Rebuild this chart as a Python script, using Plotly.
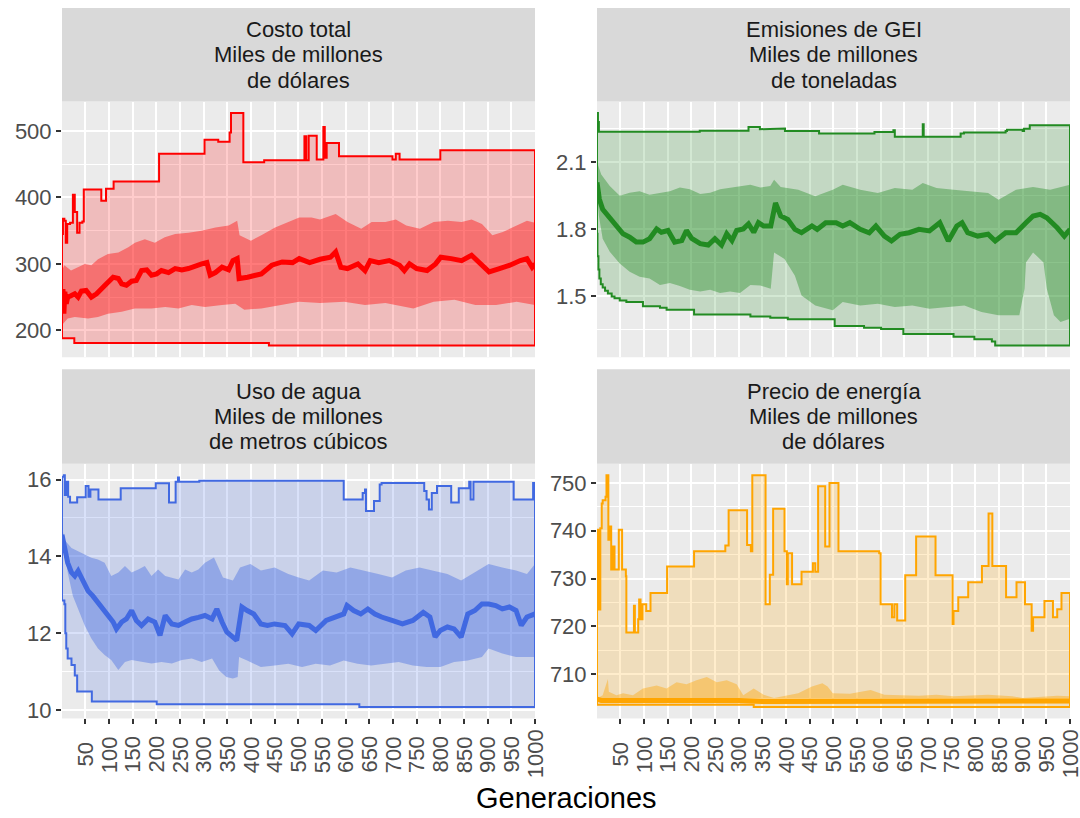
import plotly.graph_objects as go

# ---------------------------------------------------------------------------
# Data: generation -> value pairs for each objective
# max / min series are step breakpoints (value holds until the next gen)
# ---------------------------------------------------------------------------

# Costo total (miles de millones de dólares)
costo_max_gen = [1, 3, 6, 9, 12, 18, 24, 28, 33, 38, 44, 47, 84, 94, 110, 206, 302, 331, 355, 358,
                 384, 428, 488, 493, 513, 517, 522, 539, 553, 556, 560, 586, 699, 706, 714, 800, 1000]
costo_max_val = [345, 368, 365, 332, 360, 362, 404, 378, 347, 362, 364, 412, 395, 413, 424, 466, 487, 484, 498, 527,
                 453, 456, 457, 456, 492, 456, 493, 457, 506, 460, 482, 462, 457, 466, 457, 471, 471]
costo_min_gen = [1, 27, 438, 1000]
costo_min_val = [188, 181, 177, 177]
costo_med_gen = [1, 3, 5, 7, 10, 13, 20, 28, 35, 42, 52, 58, 63, 74, 84, 95, 109, 120, 127, 137, 148, 158,
                 169, 180, 190, 201, 211, 226, 240, 254, 268, 282, 296, 307, 314, 325, 339, 353, 362, 371,
                 375, 393, 408, 422, 444, 466, 488, 502, 524, 546, 568, 579, 590, 604, 626, 641, 652, 670,
                 692, 714, 724, 735, 750, 772, 790, 801, 823, 845, 866, 885, 903, 925, 947, 969, 983, 994, 1000]
costo_med_val = [230, 262, 225, 258, 240, 250, 252, 255, 250, 259, 260, 254, 250, 255, 263, 270, 280, 278, 270,
                 268, 274, 275, 290, 291, 283, 285, 290, 287, 293, 291, 293, 297, 300, 302, 283, 287, 295, 291,
                 305, 308, 278, 280, 283, 285, 298, 303, 302, 308, 302, 307, 310, 318, 295, 293, 300, 290, 305,
                 302, 305, 298, 290, 300, 293, 290, 300, 310, 308, 305, 313, 300, 288, 293, 298, 305, 308, 295, 300]
costo_hi_gen = [1, 6, 20, 28, 49, 63, 77, 98, 120, 141, 155, 176, 197, 218, 240, 268, 296, 325, 353, 371,
                376, 400, 422, 451, 480, 502, 528, 546, 579, 604, 633, 655, 684, 706, 728, 757, 786, 816,
                845, 866, 888, 910, 932, 961, 983, 1000]
costo_hi_val = [290, 298, 290, 293, 300, 298, 307, 315, 317, 325, 332, 337, 332, 340, 345, 347, 350, 355, 358,
                365, 343, 335, 343, 355, 363, 370, 370, 367, 375, 363, 353, 363, 363, 367, 358, 353, 363, 365,
                363, 367, 360, 343, 348, 358, 365, 362]
costo_lo_gen = [1, 13, 28, 56, 77, 98, 127, 155, 190, 219, 247, 275, 303, 339, 367, 386, 422, 466, 502, 546,
                597, 641, 684, 743, 786, 830, 874, 918, 961, 1000]
costo_lo_val = [208, 218, 220, 218, 220, 225, 228, 233, 233, 235, 233, 238, 235, 238, 240, 231, 233, 238, 243,
                241, 243, 238, 241, 233, 243, 246, 238, 238, 243, 238]

# Emisiones de GEI (miles de millones de toneladas)
gei_max_gen = [1, 3, 5, 218, 321, 345, 353, 398, 470, 587, 627, 630, 689, 691, 769, 776, 864, 867, 900, 903,
               915, 1000]
gei_max_val = [2.32, 2.28, 2.237, 2.241, 2.258, 2.248, 2.251, 2.24, 2.229, 2.236, 2.243, 2.214, 2.27, 2.214,
               2.229, 2.233, 2.24, 2.246, 2.24, 2.25, 2.266, 2.266]
gei_min_gen = [1, 2, 4, 6, 9, 13, 18, 24, 32, 38, 49, 63, 98, 134, 148, 206, 325, 367, 404, 503, 565, 601,
               648, 754, 798, 835, 842, 1000]
gei_min_val = [1.78, 1.68, 1.62, 1.58, 1.555, 1.54, 1.525, 1.513, 1.50, 1.492, 1.482, 1.475, 1.456, 1.449,
               1.44, 1.419, 1.41, 1.405, 1.398, 1.368, 1.36, 1.354, 1.332, 1.32, 1.309, 1.298, 1.28, 1.28]
gei_med_gen = [1, 6, 13, 24, 35, 45, 56, 70, 84, 98, 112, 127, 137, 151, 165, 180, 190, 201, 219, 236, 250,
               264, 275, 286, 296, 310, 321, 332, 342, 353, 368, 378, 389, 404, 419, 433, 455, 466, 484, 506,
               520, 535, 557, 576, 590, 608, 623, 641, 660, 681, 703, 725, 743, 761, 772, 784, 805, 827, 842,
               864, 886, 907, 922, 937, 951, 973, 988, 1000]
gei_med_val = [2.01, 1.935, 1.89, 1.86, 1.832, 1.81, 1.78, 1.765, 1.743, 1.743, 1.758, 1.802, 1.787, 1.795,
               1.743, 1.75, 1.795, 1.76, 1.736, 1.73, 1.758, 1.73, 1.78, 1.75, 1.795, 1.802, 1.824, 1.787, 1.83,
               1.815, 1.815, 1.918, 1.86, 1.844, 1.80, 1.785, 1.815, 1.80, 1.83, 1.83, 1.815, 1.83, 1.80, 1.785,
               1.815, 1.77, 1.748, 1.778, 1.785, 1.80, 1.793, 1.83, 1.748, 1.815, 1.83, 1.785, 1.77, 1.778,
               1.748, 1.785, 1.785, 1.83, 1.86, 1.867, 1.852, 1.807, 1.77, 1.80]
gei_hi_gen = [1, 10, 28, 49, 70, 91, 112, 134, 155, 176, 197, 219, 240, 261, 282, 303, 325, 346, 367, 375,
              389, 426, 462, 499, 520, 557, 594, 630, 667, 689, 718, 754, 791, 827, 849, 886, 922, 958, 1000]
gei_hi_val = [2.10, 2.045, 1.994, 1.95, 1.964, 1.97, 1.955, 1.964, 1.97, 1.987, 1.98, 1.958, 1.964, 1.98,
              1.987, 1.994, 2.0, 1.987, 1.994, 2.022, 1.99, 1.977, 1.948, 1.977, 2.0, 1.977, 1.963, 1.985,
              1.977, 2.007, 1.985, 1.977, 1.97, 1.963, 1.933, 1.977, 1.99, 1.977, 2.0]
gei_lo_gen = [1, 5, 13, 28, 49, 70, 91, 112, 134, 155, 176, 197, 219, 240, 261, 282, 303, 325, 346, 368, 375,
              397, 419, 433, 462, 499, 520, 557, 594, 630, 667, 703, 740, 777, 813, 849, 893, 904, 907, 922,
              944, 951, 966, 980, 1000]
gei_lo_val = [1.96, 1.86, 1.758, 1.70, 1.647, 1.61, 1.588, 1.58, 1.551, 1.56, 1.547, 1.53, 1.522, 1.53, 1.515,
              1.522, 1.515, 1.551, 1.549, 1.534, 1.697, 1.667, 1.593, 1.504, 1.46, 1.438, 1.475, 1.46, 1.467,
              1.453, 1.46, 1.445, 1.453, 1.46, 1.43, 1.416, 1.416, 1.534, 1.652, 1.697, 1.652, 1.534, 1.416,
              1.386, 1.40]

# Uso de agua (miles de millones de metros cúbicos)
agua_max_gen = [1, 5, 7, 11, 14, 18, 33, 51, 57, 61, 78, 125, 199, 227, 241, 246, 248, 291, 596, 636, 641,
                643, 660, 672, 676, 766, 771, 776, 782, 793, 823, 839, 861, 864, 870, 955, 996, 1000]
agua_max_val = [16.07, 16.11, 15.6, 15.94, 15.55, 15.4, 15.54, 15.83, 15.55, 15.74, 15.48, 15.77, 15.9, 15.4,
                15.94, 16.05, 15.94, 15.97, 15.48, 15.65, 15.74, 15.18, 15.44, 15.87, 15.91, 15.7, 15.48,
                15.22, 15.65, 15.83, 15.4, 15.77, 15.94, 15.48, 15.94, 15.48, 15.91, 15.91]
agua_min_gen = [1, 6, 8, 10, 13, 21, 28, 33, 64, 201, 629, 1000]
agua_min_val = [12.85, 12.75, 12.0, 11.6, 11.34, 11.17, 10.9, 10.48, 10.22, 10.15, 10.08, 10.08]
agua_med_gen = [1, 6, 13, 21, 28, 35, 42, 49, 56, 66, 74, 84, 98, 109, 116, 127, 137, 148, 158, 169, 183,
                197, 208, 219, 233, 247, 261, 275, 289, 303, 318, 328, 339, 349, 370, 381, 392, 406, 421,
                435, 450, 472, 487, 501, 523, 537, 559, 581, 596, 603, 617, 632, 647, 662, 676, 698, 720,
                742, 764, 778, 789, 800, 815, 829, 844, 858, 873, 888, 902, 917, 931, 946, 960, 971, 983, 1000]
agua_med_val = [14.56, 14.18, 13.83, 13.58, 13.49, 13.62, 13.45, 13.27, 13.10, 12.97, 12.84, 12.72, 12.46,
                12.29, 12.11, 12.29, 12.37, 12.59, 12.33, 12.2, 12.37, 12.29, 11.94, 12.46, 12.24, 12.2,
                12.29, 12.37, 12.41, 12.46, 12.37, 12.63, 12.29, 12.03, 11.81, 12.68, 12.59, 12.5, 12.24,
                12.2, 12.24, 12.2, 11.98, 12.24, 12.2, 12.07, 12.33, 12.42, 12.5, 12.72, 12.59, 12.5, 12.63,
                12.5, 12.42, 12.33, 12.24, 12.33, 12.54, 12.42, 11.9, 12.07, 12.16, 12.11, 11.9, 12.5, 12.59,
                12.76, 12.76, 12.72, 12.63, 12.68, 12.59, 12.2, 12.42, 12.5]
agua_hi_gen = [1, 6, 21, 35, 49, 63, 77, 91, 105, 120, 134, 148, 162, 176, 190, 204, 219, 233, 247, 261, 275,
               289, 303, 322, 341, 362, 377, 399, 421, 450, 479, 501, 523, 552, 581, 610, 640, 669, 698, 727,
               756, 786, 815, 844, 873, 902, 931, 960, 983, 1000]
agua_hi_val = [14.78, 14.43, 14.22, 14.13, 14.05, 13.96, 13.92, 13.83, 13.49, 13.58, 13.75, 13.58, 13.66,
               13.75, 13.49, 13.66, 13.49, 13.45, 13.4, 13.66, 13.58, 13.66, 13.83, 13.97, 13.45, 13.37,
               13.71, 13.8, 13.63, 13.71, 13.54, 13.45, 13.37, 13.63, 13.58, 13.71, 13.63, 13.54, 13.45,
               13.63, 13.71, 13.63, 13.54, 13.37, 13.58, 13.8, 13.71, 13.63, 13.54, 13.8]
agua_lo_gen = [1, 6, 13, 24, 35, 49, 63, 77, 91, 105, 120, 134, 148, 169, 190, 211, 233, 254, 275, 296, 318,
               333, 348, 362, 372, 375, 392, 421, 450, 479, 508, 537, 567, 596, 625, 654, 683, 712, 742, 771,
               800, 829, 858, 888, 902, 931, 960, 1000]
agua_lo_val = [14.7, 14.18, 13.58, 12.97, 12.63, 12.2, 11.86, 11.6, 11.43, 11.3, 11.04, 11.25, 11.3, 11.25,
               11.21, 11.25, 11.21, 11.3, 11.34, 11.25, 11.34, 11.03, 10.86, 10.82, 10.86, 11.38, 11.29,
               11.12, 11.16, 11.2, 11.12, 11.2, 11.16, 11.29, 11.2, 11.16, 11.2, 11.25, 11.16, 11.12, 11.12,
               11.25, 11.29, 11.38, 11.6, 11.47, 11.38, 11.38]

# Precio de energía (miles de millones de dólares)
energia_max_gen = [1, 3, 5, 8, 11, 13, 19, 21, 25, 29, 31, 35, 38, 47, 54, 62, 63, 79, 81, 88, 90, 93, 97,
                   105, 114, 149, 206, 272, 279, 318, 326, 329, 357, 366, 373, 397, 402, 404, 413, 433, 457,
                   462, 468, 483, 492, 511, 597, 600, 624, 629, 635, 652, 675, 716, 752, 754, 764, 785, 814,
                   828, 836, 865, 887, 905, 919, 922, 946, 964, 973, 982, 1000]
energia_max_val = [723.6, 740.2, 723.5, 740.5, 745.7, 746.4, 747.1, 751.6, 738.1, 740.9, 731.9, 736.7, 731.9,
                   740.2, 731.9, 730.5, 718.7, 724.3, 718.7, 721.5, 725.6, 721.5, 724.6, 723.2, 727.0, 732.5,
                   735.7, 736.9, 744.3, 737.0, 735.7, 751.6, 724.6, 730.8, 744.6, 735.7, 728.8, 735.3, 728.8,
                   731.4, 733.2, 731.4, 749.3, 736.7, 750.0, 735.7, 735.3, 724.6, 721.9, 724.6, 721.2, 730.7,
                   738.8, 730.7, 720.5, 723.2, 726.1, 729.2, 732.6, 743.6, 732.6, 726.1, 729.2, 724.6, 719.1,
                   721.9, 725.3, 721.9, 723.6, 727.0, 727.0]
energia_min_gen = [1, 332, 1000]
energia_min_val = [703.6, 703.15, 703.15]
energia_med_gen = [1, 10, 100, 200, 300, 350, 600, 1000]
energia_med_val = [704.8, 704.5, 704.5, 704.6, 704.5, 704.3, 704.3, 704.4]
energia_hi_gen = [1, 13, 24, 26, 42, 56, 77, 98, 127, 148, 169, 190, 211, 233, 254, 275, 296, 310, 332, 353,
                  375, 426, 455, 477, 488, 499, 535, 579, 608, 681, 718, 754, 827, 878, 900, 973, 1000]
energia_hi_val = [704.9, 705.6, 709.0, 706.3, 705.6, 706.0, 705.6, 707.0, 707.6, 707.0, 708.3, 707.9, 708.7,
                  709.4, 708.3, 708.7, 707.9, 705.6, 707.0, 705.7, 705.0, 706.0, 707.4, 708.1, 707.4, 706.0,
                  705.9, 706.7, 705.7, 705.5, 705.7, 705.4, 705.7, 705.4, 705.0, 705.5, 705.4]
energia_lo_gen = [1, 100, 330, 1000]
energia_lo_val = [704.2, 704.0, 703.9, 703.9]

# Facet labels and axis breaks
strip_labels = [
    ["Costo total", "Miles de millones", "de dólares"],
    ["Emisiones de GEI", "Miles de millones", "de toneladas"],
    ["Uso de agua", "Miles de millones", "de metros cúbicos"],
    ["Precio de energía", "Miles de millones", "de dólares"],
]
x_ticks = list(range(50, 1001, 50))
x_title = "Generaciones"

y_ticks = [[200, 300, 400, 500], [1.5, 1.8, 2.1], [10, 12, 14, 16], [710, 720, 730, 740, 750]]
y_minor = [[150, 250, 350, 450, 550], [1.35, 1.65, 1.95, 2.25], [11, 13, 15], [705, 715, 725, 735, 745]]
y_ticktext = [["200", "300", "400", "500"], ["1.5", "1.8", "2.1"], ["10", "12", "14", "16"],
              ["710", "720", "730", "740", "750"]]

panels = [
    dict(color=(255, 0, 0), mx=(costo_max_gen, costo_max_val), mn=(costo_min_gen, costo_min_val),
         md=(costo_med_gen, costo_med_val), hi=(costo_hi_gen, costo_hi_val), lo=(costo_lo_gen, costo_lo_val)),
    dict(color=(34, 139, 34), mx=(gei_max_gen, gei_max_val), mn=(gei_min_gen, gei_min_val),
         md=(gei_med_gen, gei_med_val), hi=(gei_hi_gen, gei_hi_val), lo=(gei_lo_gen, gei_lo_val)),
    dict(color=(65, 105, 225), mx=(agua_max_gen, agua_max_val), mn=(agua_min_gen, agua_min_val),
         md=(agua_med_gen, agua_med_val), hi=(agua_hi_gen, agua_hi_val), lo=(agua_lo_gen, agua_lo_val)),
    dict(color=(255, 165, 0), mx=(energia_max_gen, energia_max_val), mn=(energia_min_gen, energia_min_val),
         md=(energia_med_gen, energia_med_val), hi=(energia_hi_gen, energia_hi_val),
         lo=(energia_lo_gen, energia_lo_val)),
]

# ---------------------------------------------------------------------------
# Layout geometry (pixels from the top-left, converted to paper fractions)
# ---------------------------------------------------------------------------
W, H = 1080, 818
col_px = [(62, 535), (597, 1070)]
row_px = [(102, 359), (466, 722)]          # plot areas (top, bottom)
strip_px = [(8, 102), (371, 466)]

TICK_SIZE = 22
STRIP_SIZE = 22
TITLE_SIZE = 29

def px_x(v):
    return v / W

def px_y(v):
    return 1 - v / H

def step_path(gens, vals):
    xs, ys = [], []
    for i, (g, v) in enumerate(zip(gens, vals)):
        if i > 0:
            xs.append(g)
            ys.append(vals[i - 1])
        xs.append(g)
        ys.append(v)
    return xs, ys

def rgba(c, a):
    return f"rgba({c[0]},{c[1]},{c[2]},{a})"

FONT = "Liberation Sans, Arial, Helvetica, sans-serif"
fig = go.Figure()
annotations = []
shapes = []

for i, p in enumerate(panels):
    r, c = divmod(i, 2)
    sfx = "" if i == 0 else str(i + 1)
    xa, ya = "x" + sfx, "y" + sfx
    col = p["color"]

    # outer envelope between min and max, outlined
    mxx, mxy = step_path(*p["mx"])
    mnx, mny = step_path(*p["mn"])
    px_ = mxx + mnx[::-1] + [mxx[0]]
    py_ = mxy + mny[::-1] + [mxy[0]]
    fig.add_trace(go.Scatter(x=px_, y=py_, mode="lines", fill="toself", fillcolor=rgba(col, 0.2),
                             line=dict(color=rgba(col, 1), width=2), xaxis=xa, yaxis=ya,
                             hoverinfo="skip", showlegend=False))
    # inner band
    hg, hv = p["hi"]
    lg, lv = p["lo"]
    fig.add_trace(go.Scatter(x=list(hg) + list(lg)[::-1], y=list(hv) + list(lv)[::-1], mode="lines",
                             fill="toself", fillcolor=rgba(col, 0.4), line=dict(width=0),
                             xaxis=xa, yaxis=ya, hoverinfo="skip", showlegend=False))
    # central line
    fig.add_trace(go.Scatter(x=p["md"][0], y=p["md"][1], mode="lines",
                             line=dict(color=rgba(col, 1), width=5), xaxis=xa, yaxis=ya,
                             hoverinfo="skip", showlegend=False))

    allv = list(p["mx"][1]) + list(p["mn"][1]) + list(p["md"][1]) + list(p["hi"][1]) + list(p["lo"][1])
    lo_v, hi_v = min(allv), max(allv)
    pad = 0.05 * (hi_v - lo_v)

    x0, x1 = col_px[c]
    yt, yb = row_px[r]
    fig.layout["xaxis" + sfx] = dict(
        domain=[px_x(x0), px_x(x1)], anchor=ya, range=[1, 1000],
        tickmode="array", tickvals=x_ticks, showticklabels=False,
        ticks="outside" if r == 1 else "", ticklen=5, tickwidth=1.5, tickcolor="#333333",
        showgrid=True, gridcolor="white", gridwidth=1.8, zeroline=False, showline=False, fixedrange=True)
    fig.layout["yaxis" + sfx] = dict(
        domain=[px_y(yb), px_y(yt)], anchor=xa, range=[lo_v - pad, hi_v + pad],
        tickmode="array", tickvals=y_ticks[i], ticktext=y_ticktext[i],
        ticks="outside", ticklen=5, tickwidth=1.5, tickcolor="#333333",
        tickfont=dict(family=FONT, size=TICK_SIZE, color="#4D4D4D"),
        showgrid=True, gridcolor="white", gridwidth=1.8, zeroline=False, showline=False,
        minor=dict(tickmode="array", tickvals=y_minor[i], showgrid=True, gridcolor="white",
                   gridwidth=0.9, ticks=""), fixedrange=True)

    # facet strip
    s0, s1 = strip_px[r]
    shapes.append(dict(type="rect", xref="paper", yref="paper", x0=px_x(x0), x1=px_x(x1),
                       y0=px_y(s1), y1=px_y(s0), fillcolor="#D9D9D9", line=dict(width=0), layer="below"))
    mid = (s0 + s1) / 2
    for k, line in enumerate(strip_labels[i]):
        annotations.append(dict(text=line, xref="paper", yref="paper", x=px_x((x0 + x1) / 2),
                                y=px_y(mid + (k - 1) * 25.5), xanchor="center", yanchor="middle",
                                showarrow=False, font=dict(family=FONT, size=STRIP_SIZE, color="#1A1A1A")))

    # rotated x tick labels on the bottom row
    if r == 1:
        for t in x_ticks:
            annotations.append(dict(text=str(t), xref=xa, yref="paper", x=t, y=px_y(758),
                                    xanchor="center", yanchor="middle", textangle=-90, showarrow=False,
                                    font=dict(family=FONT, size=TICK_SIZE, color="#4D4D4D")))

annotations.append(dict(text=x_title, xref="paper", yref="paper", x=px_x(566), y=px_y(802),
                        xanchor="center", yanchor="middle", showarrow=False,
                        font=dict(family=FONT, size=TITLE_SIZE, color="#000000")))

fig.update_layout(width=W, height=H, margin=dict(l=0, r=0, t=0, b=0),
                  paper_bgcolor="white", plot_bgcolor="#EBEBEB",
                  annotations=annotations, shapes=shapes, showlegend=False)

fig.write_html("out.html", config={"displayModeBar": False})
